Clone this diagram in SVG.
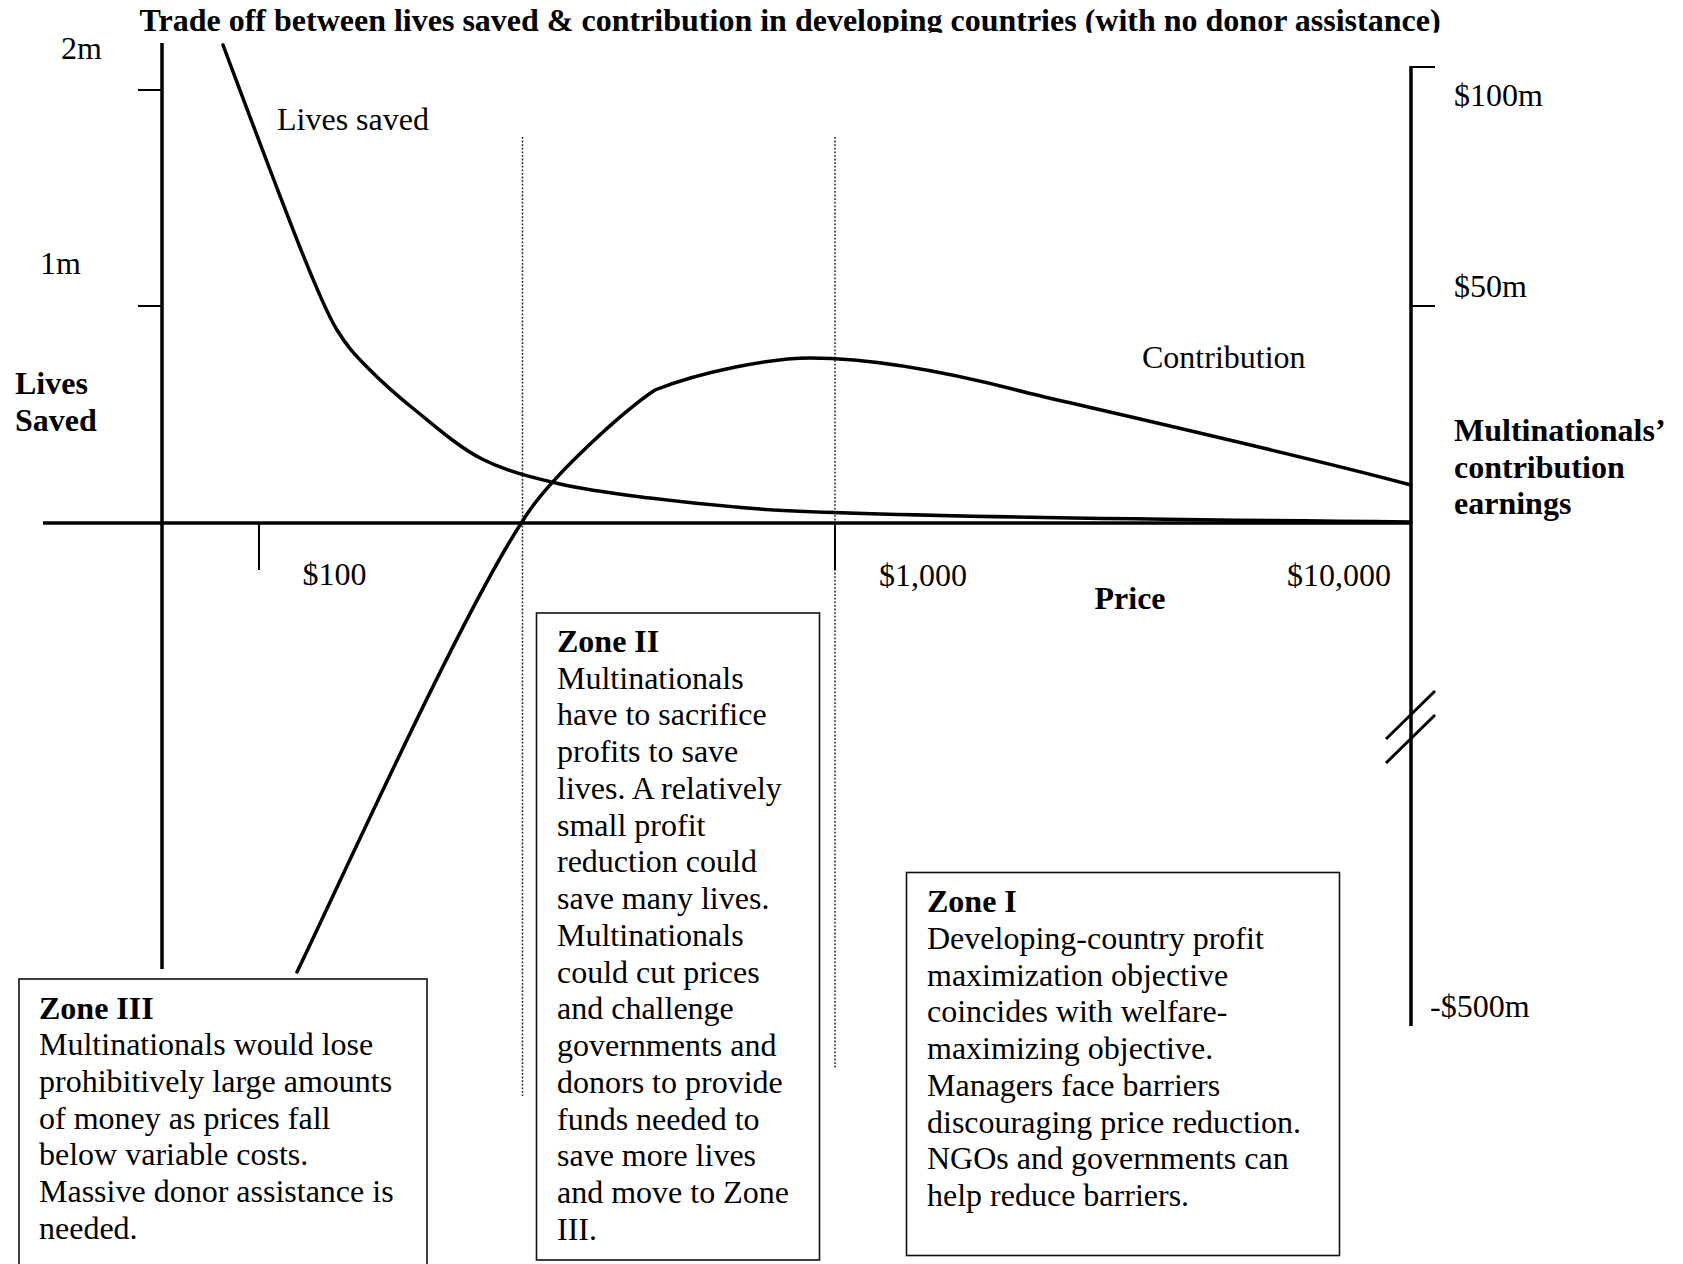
<svg xmlns="http://www.w3.org/2000/svg" width="1683" height="1264" viewBox="0 0 1683 1264">
  <style>
    text { font-family: "Liberation Serif", "Times New Roman", serif; font-size: 32px; fill: #000; }
    .b { font-weight: bold; }
    .axis { stroke: #000; stroke-width: 3.5; fill: none; }
    .tick { stroke: #000; stroke-width: 2; fill: none; }
    .curve { stroke: #000; stroke-width: 3.5; fill: none; stroke-linecap: round; stroke-linejoin: round; }
    .dot { stroke: #222; stroke-width: 1.5; stroke-dasharray: 1.8 1.8; fill: none; }
    .box { stroke: #111; stroke-width: 1.6; fill: #fff; }
  </style>
  <defs>
    <clipPath id="clipTitle"><rect x="0" y="0" width="1683" height="32.7"/></clipPath>
    <clipPath id="clip100"><rect x="290" y="540" width="80" height="45.5"/></clipPath>
    <clipPath id="clipContr"><rect x="1130" y="330" width="200" height="38.5"/></clipPath>
  </defs>
  <rect width="1683" height="1264" fill="#fff"/>

  <g id="title">
    <text class="b" x="139.5" y="30.7" clip-path="url(#clipTitle)">Trade off between lives saved &amp; contribution in developing countries (with no donor assistance)</text>
  </g>

  <g id="guides">
    <line class="dot" x1="522.5" y1="137" x2="522.5" y2="1096"/>
    <line class="dot" x1="835" y1="137" x2="835" y2="1069"/>
  </g>

  <g id="axes">
    <line class="axis" x1="162" y1="43" x2="162" y2="969"/>
    <line class="tick" x1="138" y1="90" x2="162" y2="90"/>
    <line class="tick" x1="138" y1="306" x2="162" y2="306"/>
    <line class="axis" x1="43" y1="523" x2="1411" y2="523"/>
    <line class="tick" x1="259" y1="523" x2="259" y2="570"/>
    <line class="tick" x1="835" y1="523" x2="835" y2="570"/>
    <line class="axis" x1="1411" y1="66" x2="1411" y2="1026"/>
    <line class="tick" x1="1411" y1="67" x2="1435" y2="67"/>
    <line class="tick" x1="1411" y1="306" x2="1435" y2="306"/>
    <line class="axis" x1="1435" y1="691" x2="1386" y2="739" style="stroke-width:3"/>
    <line class="axis" x1="1435" y1="715" x2="1386" y2="763" style="stroke-width:3"/>
  </g>

  <g id="connectors">
    <path id="lives-curve" class="curve" d="M223,45 C231.2,66.7 257.5,137.2 272,175 C286.5,212.8 299.2,246.2 310,272 C320.8,297.8 327.3,314 337,330 C346.7,346 355,354.7 368,368 C381,381.3 396,394.8 415,410 C434,425.2 457.8,446.7 482,459 C506.2,471.3 532,477.5 560,484 C588,490.5 616.7,493.8 650,498 C683.3,502.2 720,506 760,509 C850,516 1200,520 1411,522"/>
    <path id="contribution-curve" class="curve" d="M297,972 C345,872 462,613.5 522,522 C548,478 625,410 655,390 C700,372 770,358 810,358 C880,358 960,375 1028,393 C1100,410 1300,455 1411,485"/>
  </g>

  <g id="labels">
    <text x="61" y="59">2m</text>
    <text x="40" y="274">1m</text>
    <text class="b" x="15" y="394">Lives</text>
    <text class="b" x="15" y="430.5">Saved</text>
    <text x="277" y="130">Lives saved</text>
    <text x="1142" y="368" clip-path="url(#clipContr)">Contribution</text>
    <text x="302.5" y="585" clip-path="url(#clip100)">$100</text>
    <text x="879" y="585.5">$1,000</text>
    <text x="1287" y="585.5">$10,000</text>
    <text class="b" x="1094.5" y="609">Price</text>
    <text x="1454" y="105.5">$100m</text>
    <text x="1454" y="297">$50m</text>
    <text class="b" x="1454" y="440.5">Multinationals’</text>
    <text class="b" x="1454" y="477.5">contribution</text>
    <text class="b" x="1454" y="514">earnings</text>
    <text x="1430" y="1017">-$500m</text>
  </g>

  <g id="zone-3">
    <rect class="box" x="19" y="979" width="408" height="300"/>
    <text x="39" y="1018.6"><tspan class="b">Zone III</tspan><tspan x="39" dy="36.7">Multinationals would lose</tspan><tspan x="39" dy="36.7">prohibitively large amounts</tspan><tspan x="39" dy="36.7">of money as prices fall</tspan><tspan x="39" dy="36.7">below variable costs.</tspan><tspan x="39" dy="36.7">Massive donor assistance is</tspan><tspan x="39" dy="36.7">needed.</tspan></text>
  </g>

  <g id="zone-2">
    <rect class="box" x="536.5" y="613" width="283" height="647"/>
    <text x="557" y="652"><tspan class="b">Zone II</tspan><tspan x="557" dy="36.74">Multinationals</tspan><tspan x="557" dy="36.74">have to sacrifice</tspan><tspan x="557" dy="36.74">profits to save</tspan><tspan x="557" dy="36.74">lives. A relatively</tspan><tspan x="557" dy="36.74">small profit</tspan><tspan x="557" dy="36.74">reduction could</tspan><tspan x="557" dy="36.74">save many lives.</tspan><tspan x="557" dy="36.74">Multinationals</tspan><tspan x="557" dy="36.74">could cut prices</tspan><tspan x="557" dy="36.74">and challenge</tspan><tspan x="557" dy="36.74">governments and</tspan><tspan x="557" dy="36.74">donors to provide</tspan><tspan x="557" dy="36.74">funds needed to</tspan><tspan x="557" dy="36.74">save more lives</tspan><tspan x="557" dy="36.74">and move to Zone</tspan><tspan x="557" dy="36.74">III.</tspan></text>
  </g>

  <g id="zone-1">
    <rect class="box" x="906.5" y="872.5" width="433" height="383"/>
    <text x="927" y="912"><tspan class="b">Zone I</tspan><tspan x="927" dy="36.75">Developing-country profit</tspan><tspan x="927" dy="36.75">maximization objective</tspan><tspan x="927" dy="36.75">coincides with welfare-</tspan><tspan x="927" dy="36.75">maximizing objective.</tspan><tspan x="927" dy="36.75">Managers face barriers</tspan><tspan x="927" dy="36.75">discouraging price reduction.</tspan><tspan x="927" dy="36.75">NGOs and governments can</tspan><tspan x="927" dy="36.75">help reduce barriers.</tspan></text>
  </g>
</svg>
